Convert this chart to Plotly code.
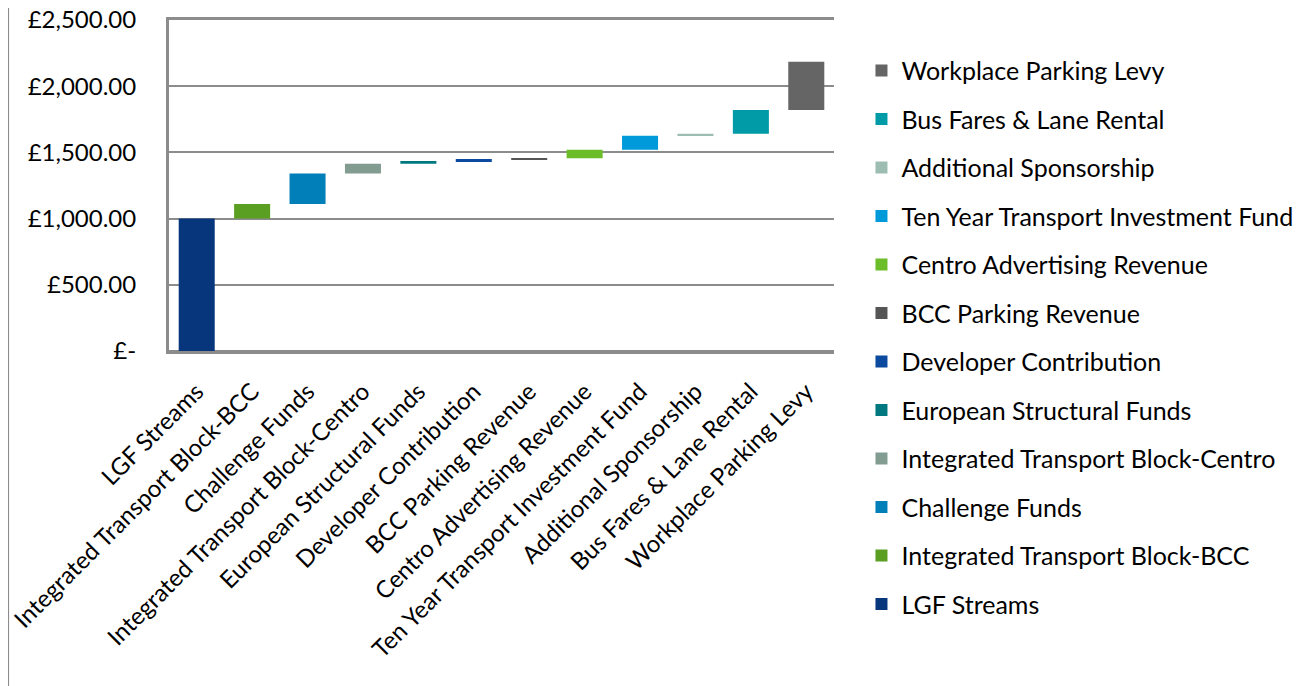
import plotly.graph_objects as go
import numpy as np

categories = ["LGF Streams", "Integrated Transport Block-BCC", "Challenge Funds",
              "Integrated Transport Block-Centro", "European Structural Funds",
              "Developer Contribution", "BCC Parking Revenue", "Centro Advertising Revenue",
              "Ten Year Transport Investment Fund", "Additional Sponsorship",
              "Bus Fares & Lane Rental", "Workplace Parking Levy"]
values = [1000, 110, 230, 75, 20, 15, 5, 65, 105, 15, 180, 365]
colors = ["#08367D", "#5A9E22", "#007FB8", "#839C92", "#00787F", "#0B4A9E",
          "#555555", "#6BBD2A", "#009ADB", "#9EBDB2", "#009BA6", "#666565"]
tick_vals = [0, 500, 1000, 1500, 2000, 2500]
tick_text = ["£-", "£500.00", "£1,000.00", "£1,500.00", "£2,000.00", "£2,500.00"]

bases = [float(b) for b in np.concatenate([[0], np.cumsum(values)[:-1]])]

FONT = "Lato"
GRID = "#8C8C8C"
fig = go.Figure()
n = len(categories)
for i, (cat, v, b, c) in enumerate(zip(categories, values, bases, colors)):
    fig.add_trace(go.Bar(x=[cat], y=[float(v)], base=[b], name=cat, marker_color=c,
                         marker_line_width=0, legendgroup=cat, legendrank=1000 + n - i))

fig.update_layout(
    width=1305, height=686,
    barmode="overlay", bargap=0.35,
    plot_bgcolor="white", paper_bgcolor="white",
    margin=dict(l=161, r=479, t=12, b=343, autoexpand=False),
    font=dict(family=FONT, size=24, color="#000000"),
    showlegend=True,
    legend=dict(traceorder="grouped", x=0.654, xanchor="left", xref="container",
                y=0.942, yanchor="top", yref="container", font=dict(size=25),
                tracegroupgap=13, itemwidth=30, maxheight=800,
                bgcolor="rgba(0,0,0,0)"),
    xaxis=dict(tickangle=-45, showgrid=False, showline=True, mirror=True,
               linecolor=GRID, linewidth=3, ticks="", automargin=False,
               ticklabelstandoff=14,
               tickfont=dict(size=24), categoryorder="array", categoryarray=categories),
    yaxis=dict(range=[0, 2500], tickvals=tick_vals, ticktext=tick_text, automargin=False,
               showgrid=True, gridcolor=GRID, gridwidth=2,
               showline=True, linecolor=GRID, linewidth=3,
               zeroline=True, zerolinecolor=GRID, zerolinewidth=3,
               ticks="", ticklabelstandoff=25, ticklabeloverflow="allow",
               tickfont=dict(size=24)),
)
fig.add_shape(type="line", xref="paper", yref="paper", x0=-0.242, x1=-0.242,
              y0=-1.1, y1=1.1, line=dict(color=GRID, width=2))
fig.write_html("out.html")
